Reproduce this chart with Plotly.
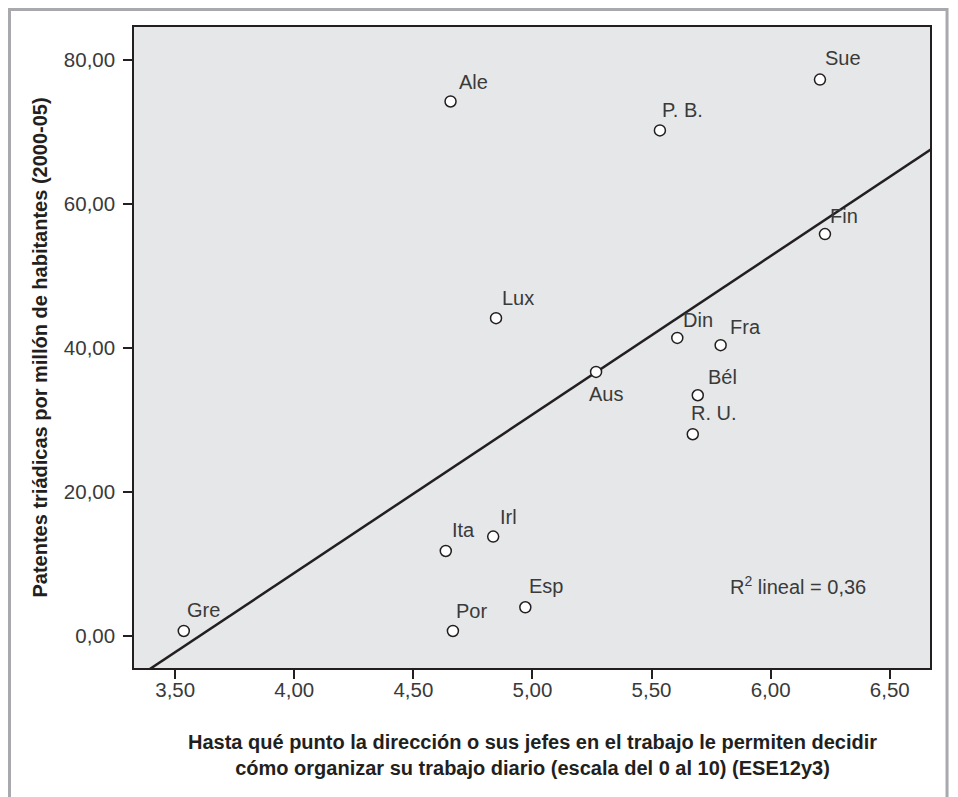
import plotly.graph_objects as go

# ---- data ----
countries = ["Gre", "Por", "Ita", "Irl", "Esp", "Ale", "P. B.", "Sue", "Fin",
             "Lux", "Aus", "Din", "Fra", "Bél", "R. U."]
autonomy = [3.536, 4.666, 4.636, 4.835, 4.970, 4.656, 5.535, 6.207, 6.228,
            4.847, 5.267, 5.608, 5.790, 5.694, 5.673]
patents = [0.74, 0.74, 11.85, 13.85, 4.03, 74.26, 70.24, 77.3, 55.85,
           44.17, 36.71, 41.43, 40.42, 33.47, 28.06]

fit_slope = 22.0
fit_intercept = -79.2
fit_x = [3.30, 6.75]
r2_text = "R<sup>2</sup> lineal = 0,36"

x_ticks = [3.5, 4.0, 4.5, 5.0, 5.5, 6.0, 6.5]
y_ticks = [0, 20, 40, 60, 80]

x_title = ("Hasta qué punto la dirección o sus jefes en el trabajo le permiten decidir<br>"
           "cómo organizar su trabajo diario (escala del 0 al 10) (ESE12y3)")
y_title = "Patentes triádicas por millón de habitantes (2000-05)"

# label offsets (pixels) relative to marker: (dx, dy)
label_offsets = {
    "Gre": (1, 21), "Por": (1, 20), "Ita": (4, 21), "Irl": (5, 20), "Esp": (2, 21),
    "Ale": (6, 19), "P. B.": (0, 20), "Sue": (3, 22), "Fin": (3, 18), "Lux": (4, 20),
    "Aus": (-9, -22), "Din": (4, 18), "Fra": (7, 18), "Bél": (8, 18), "R. U.": (-4, 21),
}

FONT = "Liberation Sans, Arial, Helvetica, sans-serif"
INK = "#231f20"
TXT = "#3a3a3a"

fig = go.Figure()

fit_y = [fit_slope * v + fit_intercept for v in fit_x]
fig.add_trace(go.Scatter(x=fit_x, y=fit_y, mode="lines",
                         line=dict(color=INK, width=2.5), hoverinfo="skip",
                         showlegend=False))

fig.add_trace(go.Scatter(x=autonomy, y=patents, mode="markers",
                         marker=dict(symbol="circle", size=11, color="white",
                                     line=dict(color=INK, width=1.5)),
                         text=countries, showlegend=False, cliponaxis=False))

annotations = []
for name, xv, yv in zip(countries, autonomy, patents):
    dx, dy = label_offsets[name]
    annotations.append(dict(x=xv, y=yv, xref="x", yref="y", text=name,
                            showarrow=False, xanchor="left", yanchor="middle",
                            xshift=dx, yshift=dy,
                            font=dict(family=FONT, size=20, color=TXT)))

annotations.append(dict(x=5.821, y=7.08, xref="x", yref="y", text=r2_text,
                        showarrow=False, xanchor="left", yanchor="middle",
                        font=dict(family=FONT, size=20, color=TXT)))

annotations.append(dict(x=0.5, y=-0.1355, xref="paper", yref="paper", text=x_title,
                        showarrow=False, xanchor="center", yanchor="middle",
                        align="center",
                        font=dict(family=FONT, size=20, color=INK, weight="bold")))
annotations.append(dict(x=-0.1193, y=0.5, xref="paper", yref="paper", text=y_title,
                        showarrow=False, xanchor="center", yanchor="middle",
                        textangle=-90,
                        font=dict(family=FONT, size=20, color=INK, weight="bold")))

fig.update_layout(
    width=950, height=789,
    margin=dict(l=126, r=28, t=19, b=129.3),
    paper_bgcolor="white", plot_bgcolor="#e6e7e8",
    separators=",.",
    font=dict(family=FONT, size=20, color=TXT),
    annotations=annotations,
    shapes=[dict(type="rect", xref="paper", yref="paper",
                 x0=-0.1564, x1=1.0214, y0=-0.25, y1=1.0273,
                 line=dict(color="#a7a9ac", width=3), layer="below")],
    showlegend=False,
)

fig.update_xaxes(range=[3.327, 6.669], tickvals=x_ticks, tickformat=".2f",
                 ticks="outside", ticklen=9, tickwidth=1.5, tickcolor=INK,
                 ticklabelstandoff=-6,
                 showline=True, linecolor=INK, linewidth=1.5, mirror=True,
                 showgrid=False, zeroline=False,
                 tickfont=dict(family=FONT, size=20.5, color=TXT))
fig.update_yaxes(range=[-4.4, 84.6], tickvals=y_ticks, tickformat=".2f",
                 ticks="outside", ticklen=9, tickwidth=1.5, tickcolor=INK,
                 ticklabelstandoff=4,
                 showline=True, linecolor=INK, linewidth=1.5, mirror=True,
                 showgrid=False, zeroline=False,
                 tickfont=dict(family=FONT, size=20.5, color=TXT))

fig.write_html("out.html")
